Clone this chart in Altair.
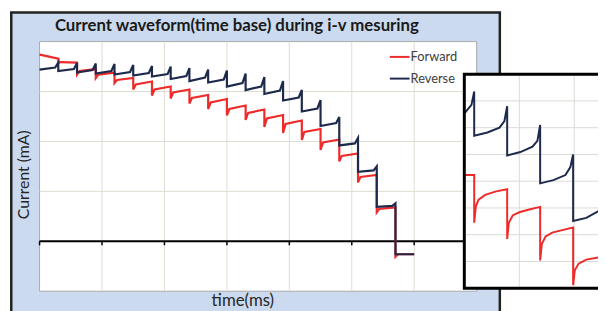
import altair as alt
import pandas as pd

# ---------------- main chart data (grid units) ----------------
seg_start = [0.0, 0.3, 0.6, 0.9, 1.2, 1.5, 1.8, 2.1, 2.4, 2.7,
             3.0, 3.3, 3.6, 3.9, 4.2, 4.5, 4.8, 5.1, 5.4, 5.7]
# Reverse (navy): level after the step, level before the spike, spike tip
rev_start = [3.44, 3.41, 3.38, 3.36, 3.34, 3.32, 3.30, 3.25, 3.21, 3.18,
             3.10, 3.03, 2.95, 2.82, 2.60, 2.31, 1.92, 1.39, 0.69, -0.26]
rev_end = [3.48, 3.45, 3.43, 3.41, 3.39, 3.37, 3.35, 3.31, 3.28, 3.24,
           3.17, 3.10, 3.02, 2.88, 2.66, 2.37, 1.96, 1.42, 0.71, -0.26]
rev_tip = [3.58, 3.57, 3.56, 3.55, 3.53, 3.51, 3.50, 3.47, 3.44, 3.42,
           3.36, 3.29, 3.21, 3.03, 2.83, 2.49, 2.07, 1.50, 0.76, -0.26]
# Forward (red): dip after the step, knee, level at the end of the step
fwd_dip = [3.74, 3.57, 3.34, 3.27, 3.17, 3.04, 2.92, 2.86, 2.76, 2.65,
           2.52, 2.43, 2.29, 2.17, 2.03, 1.83, 1.60, 1.18, 0.58, -0.31]
fwd_knee = [3.73, 3.59, 3.41, 3.34, 3.23, 3.14, 3.04, 2.98, 2.87, 2.78,
            2.65, 2.57, 2.46, 2.35, 2.19, 1.98, 1.71, 1.29, 0.65, -0.26]
fwd_end = [3.66, 3.58, 3.45, 3.38, 3.27, 3.20, 3.10, 3.04, 2.93, 2.85,
           2.72, 2.64, 2.53, 2.42, 2.25, 2.04, 1.76, 1.33, 0.68, -0.26]
seg_len = 0.3

grid_t = [1, 2, 3, 4, 5, 6]
grid_i = [1, 2, 3]
tick_t = [0, 1, 2, 3, 4, 5, 6, 7]

# ---------------- inset (zoomed view) data ----------------
inset_rev_w = [0.01, 0.13, 0.18, 0.18, 0.42, 0.64, 0.73, 0.78, 0.78, 1.02, 1.24,
               1.33, 1.38, 1.38, 1.62, 1.84, 1.93, 1.98, 1.98, 2.22, 2.46]
inset_rev_v = [6.55, 6.85, 7.35, 5.70, 5.82, 6.00, 6.25, 6.80, 4.96, 5.09, 5.29,
               5.51, 6.10, 3.92, 4.04, 4.23, 4.53, 5.00, 2.51, 2.63, 2.90]
inset_fwd_w = [0.01, 0.18, 0.18, 0.21, 0.26, 0.38, 0.58, 0.78, 0.78, 0.81, 0.88,
               1.00, 1.18, 1.38, 1.38, 1.41, 1.48, 1.60, 1.80, 1.98, 1.98, 2.01,
               2.08, 2.22, 2.46]
inset_fwd_v = [4.23, 4.23, 2.45, 3.06, 3.31, 3.49, 3.62, 3.70, 1.84, 2.45, 2.72,
               2.84, 2.94, 3.04, 1.04, 1.65, 1.94, 2.08, 2.18, 2.27, 0.12, 0.67,
               0.92, 1.07, 1.16]
inset_grid_w = [1, 2]
inset_grid_v = [1, 2, 3, 4, 5, 6, 7]

RED = "#ee2b2b"
NAVY = "#1e2a4c"
GRID = "#dddbd0"
FONT = "Lato"

# ---------------- build line tables ----------------
rows = []
n = 0
for k, t0 in enumerate(seg_start):
    for dt, v in ((0.0, rev_start[k]), (0.25, rev_end[k]), (seg_len, rev_tip[k])):
        rows.append({"t": round(t0 + dt, 3), "i": v, "idx": n})
        n += 1
rev_df = pd.DataFrame(rows)

rows = []
n = 0
for k, t0 in enumerate(seg_start):
    for dt, v in ((0.0, fwd_dip[k]), (0.04, fwd_knee[k]), (seg_len, fwd_end[k])):
        rows.append({"t": round(t0 + dt, 3), "i": v, "idx": n})
        n += 1
fwd_df = pd.DataFrame(rows)

irev_df = pd.DataFrame({"w": inset_rev_w, "v": inset_rev_v, "idx": range(len(inset_rev_w))})
ifwd_df = pd.DataFrame({"w": inset_fwd_w, "v": inset_fwd_v, "idx": range(len(inset_fwd_w))})


def mx():
    return alt.Scale(domain=[0, 7], range=[32, 475], nice=False, zero=False)


def my():
    return alt.Scale(domain=[-1, 4], range=[285, 32], nice=False, zero=False)


def ix():
    return alt.Scale(domain=[0, 2], range=[462.5, 573.9], nice=False, zero=False)


def iy():
    return alt.Scale(domain=[0, 8], range=[282, 65], nice=False, zero=False)


one = alt.Data(values=[{}])

panel = alt.Chart(one).mark_rect(fill="#cbdaee", stroke="#222222", strokeWidth=2.5).encode(
    x=alt.value(3.3), x2=alt.value(498.5), y=alt.value(2.5), y2=alt.value(340))

plot_bg = alt.Chart(one).mark_rect(fill="white", stroke="#a9a9a9", strokeWidth=1).encode(
    x=alt.XDatum(0, type="quantitative", scale=mx(), axis=None), x2=alt.X2Datum(7),
    y=alt.YDatum(-1, type="quantitative", scale=my(), axis=None), y2=alt.Y2Datum(4))

vgrid = alt.Chart(pd.DataFrame({"t": grid_t})).mark_rule(color=GRID, strokeWidth=1).encode(
    x=alt.X("t:Q", scale=mx(), axis=None),
    y=alt.YDatum(-1, type="quantitative", scale=my(), axis=None), y2=alt.Y2Datum(4))

hgrid = alt.Chart(pd.DataFrame({"i": grid_i})).mark_rule(color=GRID, strokeWidth=1).encode(
    y=alt.Y("i:Q", scale=my(), axis=None),
    x=alt.XDatum(0, type="quantitative", scale=mx(), axis=None), x2=alt.X2Datum(7))

zero_line = alt.Chart(one).mark_rule(color="black", strokeWidth=2).encode(
    y=alt.YDatum(0, type="quantitative", scale=my(), axis=None),
    x=alt.XDatum(0, type="quantitative", scale=mx(), axis=None), x2=alt.X2Datum(7))

ticks = alt.Chart(pd.DataFrame({"t": tick_t})).mark_rule(color="black", strokeWidth=1.5).encode(
    x=alt.X("t:Q", scale=mx(), axis=None),
    y=alt.YDatum(0, type="quantitative", scale=my(), axis=None), y2=alt.Y2Datum(-0.08))

fwd_line = alt.Chart(fwd_df).mark_line(color=RED, strokeWidth=2.2).encode(
    x=alt.X("t:Q", scale=mx(), axis=None), y=alt.Y("i:Q", scale=my(), axis=None),
    order="idx:Q")
rev_line = alt.Chart(rev_df).mark_line(color=NAVY, strokeWidth=2.2).encode(
    x=alt.X("t:Q", scale=mx(), axis=None), y=alt.Y("i:Q", scale=my(), axis=None),
    order="idx:Q")

leg_red = alt.Chart(one).mark_rule(color=RED, strokeWidth=2).encode(
    x=alt.value(387), x2=alt.value(407), y=alt.value(47.5))
leg_navy = alt.Chart(one).mark_rule(color=NAVY, strokeWidth=2).encode(
    x=alt.value(387), x2=alt.value(407), y=alt.value(69.5))
leg_t1 = alt.Chart(one).mark_text(text="Forward", font=FONT, fontSize=13, color="#404040",
                                  align="left", baseline="middle").encode(
    x=alt.value(408), y=alt.value(47.5))
leg_t2 = alt.Chart(one).mark_text(text="Reverse", font=FONT, fontSize=13, color="#404040",
                                  align="left", baseline="middle").encode(
    x=alt.value(408), y=alt.value(69.5))

title = alt.Chart(one).mark_text(text="Current waveform(time base) during i-v mesuring",
                                 font=FONT, fontSize=17, fontWeight="bold", color="#1a1a1a",
                                 align="center", baseline="alphabetic").encode(
    x=alt.value(232), y=alt.value(21.5))
ytitle = alt.Chart(one).mark_text(text="Current (mA)", font=FONT, fontSize=16, color="#262626",
                                  angle=270, align="center", baseline="middle").encode(
    x=alt.value(16), y=alt.value(167))
xtitle = alt.Chart(one).mark_text(text="time(ms)", font=FONT, fontSize=17, color="#262626",
                                  align="center", baseline="alphabetic").encode(
    x=alt.value(238), y=alt.value(300))

# ---------------- inset ----------------
inset_bg = alt.Chart(one).mark_rect(fill="white").encode(
    x=alt.XDatum(0, type="quantitative", scale=ix(), axis=None), x2=alt.X2Datum(3),
    y=alt.YDatum(0, type="quantitative", scale=iy(), axis=None), y2=alt.Y2Datum(8))
inset_vgrid = alt.Chart(pd.DataFrame({"w": inset_grid_w})).mark_rule(color="#d9d9d4", strokeWidth=1).encode(
    x=alt.X("w:Q", scale=ix(), axis=None),
    y=alt.YDatum(0, type="quantitative", scale=iy(), axis=None), y2=alt.Y2Datum(8))
inset_hgrid = alt.Chart(pd.DataFrame({"v": inset_grid_v})).mark_rule(color="#d9d9d4", strokeWidth=1).encode(
    y=alt.Y("v:Q", scale=iy(), axis=None),
    x=alt.XDatum(0, type="quantitative", scale=ix(), axis=None), x2=alt.X2Datum(3))
inset_fwd = alt.Chart(ifwd_df).mark_line(color=RED, strokeWidth=2).encode(
    x=alt.X("w:Q", scale=ix(), axis=None), y=alt.Y("v:Q", scale=iy(), axis=None),
    order="idx:Q")
inset_rev = alt.Chart(irev_df).mark_line(color=NAVY, strokeWidth=2).encode(
    x=alt.X("w:Q", scale=ix(), axis=None), y=alt.Y("v:Q", scale=iy(), axis=None),
    order="idx:Q")
inset_border = alt.Chart(one).mark_rect(filled=False, stroke="black", strokeWidth=3).encode(
    x=alt.XDatum(0, type="quantitative", scale=ix(), axis=None), x2=alt.X2Datum(3),
    y=alt.YDatum(0, type="quantitative", scale=iy(), axis=None), y2=alt.Y2Datum(8))

chart = alt.layer(
    panel, plot_bg, vgrid, hgrid, zero_line, ticks, fwd_line, rev_line,
    leg_red, leg_navy, leg_t1, leg_t2, title, ytitle, xtitle,
    inset_bg, inset_vgrid, inset_hgrid, inset_fwd, inset_rev, inset_border,
).resolve_scale(x="independent", y="independent").properties(
    width=598, height=303, padding=0,
    autosize=alt.AutoSizeParams(type="none"), background="white",
).configure_view(stroke=None)

chart.save("out.html", embed_options={"renderer": "svg", "actions": False})
